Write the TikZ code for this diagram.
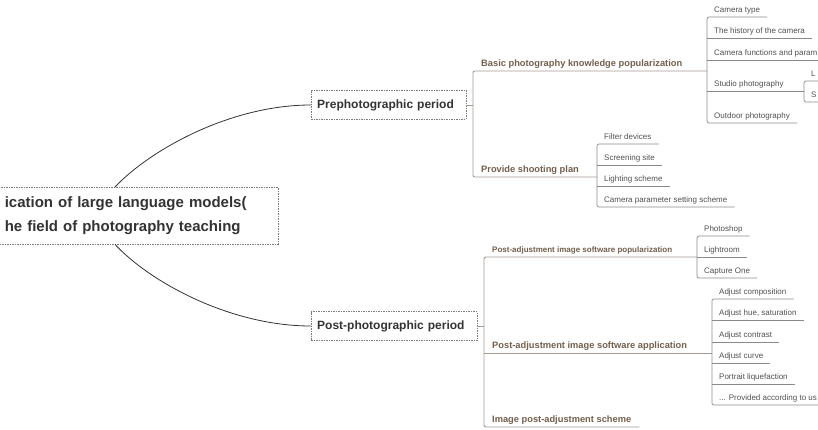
\documentclass[tikz,border=0pt]{standalone}
\usepackage{fontspec}
\setmainfont{Liberation Sans}
\usetikzlibrary{positioning}

\definecolor{rootgray}{HTML}{333333}
\definecolor{boxgray}{HTML}{7A7A7A}
\definecolor{topictext}{HTML}{735F4B}
\definecolor{topicgray}{HTML}{A39A90}
\definecolor{leaftext}{HTML}{505050}
\definecolor{leafgray}{HTML}{8A8A8A}

\tikzset{
  rootbox/.style={draw=boxgray, dash pattern=on 1.5pt off 1pt, text=rootgray,
    font=\bfseries\fontsize{15}{24}\selectfont, align=left},
  phasebox/.style={draw=boxgray, dash pattern=on 1.5pt off 1pt, text=rootgray,
    font=\bfseries\fontsize{12}{14}\selectfont, align=left, anchor=west,
    inner xsep=6pt, minimum height=29pt},
  topic/.style={anchor=south west, inner xsep=8pt, inner ysep=2pt, text depth=2.5pt,
    text=topictext, font=\bfseries\fontsize{9.3}{11}\selectfont},
  leaf/.style={anchor=south west, inner xsep=7pt, inner ysep=2pt, text depth=2pt,
    text=leaftext, font=\fontsize{8}{10}\selectfont},
  rootline/.style={draw=rootgray, line width=0.8pt},
  topicline/.style={draw=topicgray, line width=0.9pt, rounded corners=2pt},
  leafline/.style={draw=leafgray, line width=0.7pt, rounded corners=2pt}
}

\begin{document}
\begin{tikzpicture}[x=1pt, y=-1pt]
\useasboundingbox (0,0) rectangle (818,430);
\clip (0,0) rectangle (818,430);

% centre and the two periods
\node[rootbox, anchor=north east, minimum height=57pt, text width=258pt, inner xsep=15pt]
  (root) at (278,187) {ication of large language models(\\he field of photography teaching};
\node[phasebox, text width=143pt] (pre) at (311,105) {Prephotographic period};
\node[phasebox, text width=154pt] (post) at (311,326) {Post-photographic period};

% before shooting
\node[topic] (basic) at (473,71) {Basic photography knowledge popularization};
\node[topic] (plan) at (473,177) {Provide shooting plan};
\node[leaf] (ctype) at (707,17) {Camera type};
\node[leaf] (chist) at (707,38) {The history of the camera};
\node[leaf] (cfunc) at (707,60) {Camera functions and param};
\node[leaf] (studio) at (707,91) {Studio photography};
\node[leaf] (outdoor) at (707,123) {Outdoor photography};
\node[leaf] (stl) at (804,81) {L};
\node[leaf] (sts) at (804,102) {S};
\node[leaf] (filter) at (597,144) {Filter devices};
\node[leaf] (site) at (597,165) {Screening site};
\node[leaf] (light) at (597,186) {Lighting scheme};
\node[leaf] (param) at (597,207) {Camera parameter setting scheme};

% after shooting
\node[topic, font=\bfseries\fontsize{8}{9}\selectfont] (popu) at (484,257) {Post-adjustment image software popularization};
\node[topic] (appl) at (484,353) {Post-adjustment image software application};
\node[topic] (scheme) at (484,427) {Image post-adjustment scheme};
\node[leaf] (ps) at (697,236) {Photoshop};
\node[leaf] (lr) at (697,257) {Lightroom};
\node[leaf] (cone) at (697,278) {Capture One};
\node[leaf] (comp) at (712,299) {Adjust composition};
\node[leaf] (hue) at (712,320) {Adjust hue, saturation};
\node[leaf] (contr) at (712,342) {Adjust contrast};
\node[leaf] (curve) at (712,363) {Adjust curve};
\node[leaf] (liq) at (712,384) {Portrait liquefaction};
\node[leaf] (user) at (712,405) {... Provided according to us};

% curves from the centre
\draw[rootline] (115,0 |- root.north) .. controls (150,150) and (230,105) .. (pre.west);
\draw[rootline] (115,0 |- root.south) .. controls (150,282) and (230,326) .. (post.west);

% period to topics
\draw[topicline] (pre.east) -- (pre.east -| basic.south west);
\draw[topicline] (basic.south west -| ctype.south west) -- (basic.south west)
  -- (plan.south west) -- (plan.south west -| filter.south west);
\draw[topicline] (post.east) -- (post.east -| popu.south west);
\draw[topicline] (popu.south west -| ps.south west) -- (popu.south west)
  -- (scheme.south west) -- (scheme.south east);
\draw[topicline] (appl.south west) -- (appl.south west -| comp.south west);

% topics to leaves
\draw[leafline] (ctype.south east) -- (ctype.south west) -- (outdoor.south west) -- (outdoor.south east);
\draw[leafline] (studio.south east) -- (studio.south east -| stl.south west);
\draw[leafline] (stl.south east) -- (stl.south west) -- (sts.south west) -- (sts.south east);
\draw[leafline] (filter.south east) -- (filter.south west) -- (param.south west) -- (param.south east);
\draw[leafline] (ps.south east) -- (ps.south west) -- (cone.south west) -- (cone.south east);
\draw[leafline] (comp.south east) -- (comp.south west) -- (user.south west) -- (user.south east);
\foreach \n in {chist,cfunc,studio,site,light,lr,hue,contr,curve,liq}
  \draw[leafline] (\n.south west) -- (\n.south east);
\end{tikzpicture}
\end{document}
